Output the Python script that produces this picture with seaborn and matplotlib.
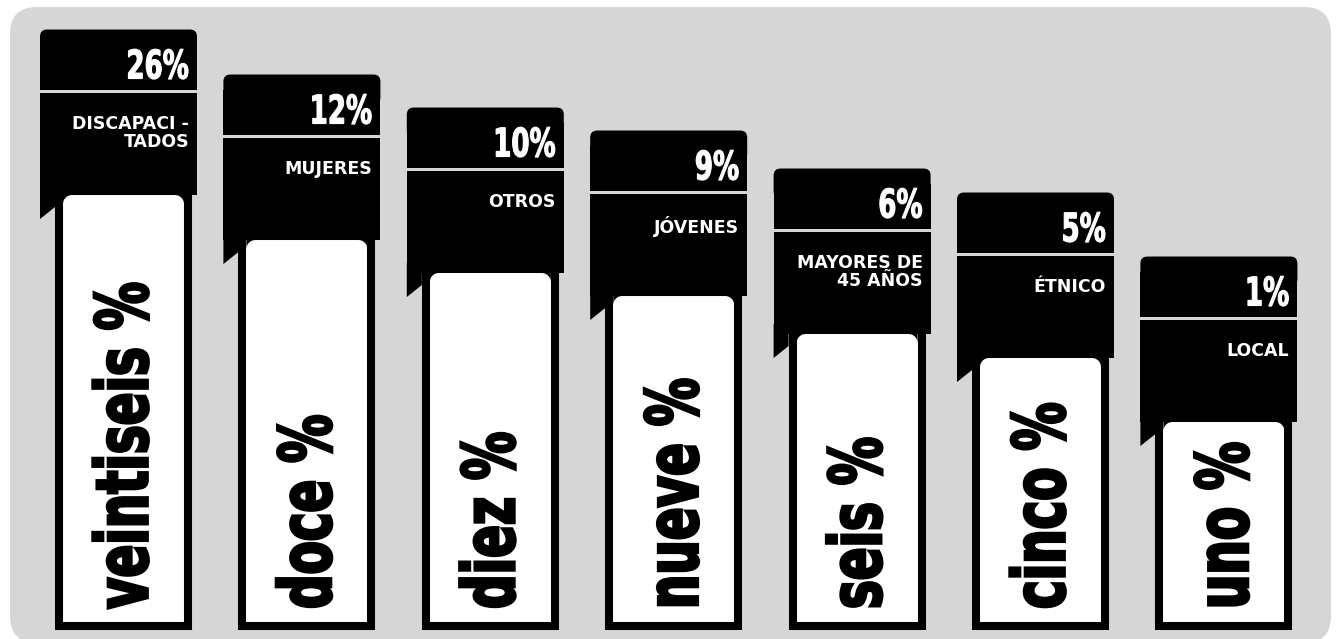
import numpy as np
import pandas as pd
import matplotlib
matplotlib.use("Agg")
import matplotlib.pyplot as plt
from matplotlib.patches import FancyBboxPatch, Polygon, Rectangle
from matplotlib.transforms import IdentityTransform, Affine2D
from matplotlib.patheffects import AbstractPathEffect
import seaborn as sns

# --- data -------------------------------------------------------------
grupos = ["DISCAPACI -\nTADOS", "MUJERES", "OTROS", "JÓVENES",
          "MAYORES DE\n45 AÑOS", "ÉTNICO", "LOCAL"]
porcentajes = [26, 12, 10, 9, 6, 5, 1]
en_palabras = ["veintiseis", "doce", "diez", "nueve", "seis", "cinco", "uno"]
# length of each column as drawn in the infographic
altura_columna = [435, 390, 357, 334, 296, 272, 208]


class Stretch(AbstractPathEffect):
    """Stretch glyphs around an anchor point and optionally embolden them."""

    def __init__(self, origin, sx=1.0, sy=1.0, stroke=0.0):
        super().__init__()
        self.origin, self.sx, self.sy, self.stroke = origin, sx, sy, stroke

    def draw_path(self, renderer, gc, tpath, affine, rgbFace=None):
        ox, oy = self.origin
        extra = (Affine2D().translate(-ox, -oy)
                 .scale(self.sx, self.sy).translate(ox, oy))
        gc0 = renderer.new_gc()
        gc0.copy_properties(gc)
        if self.stroke > 0 and rgbFace is not None:
            gc0.set_linewidth(self.stroke)
            gc0.set_foreground(rgbFace)
            gc0.set_joinstyle("miter")
        renderer.draw_path(gc0, tpath, affine + extra, rgbFace)
        gc0.restore()


def corner_fillet(x, y, r, side):
    """Black fillet that rounds an inner top corner of a column."""
    t = np.linspace(0, np.pi / 2, 12)
    sign = 1 if side == "left" else -1
    cxr, cyr = x + sign * r, y - r
    arc = np.c_[cxr - sign * r * np.cos(t), cyr + r * np.sin(t)]
    return np.vstack([[x, y], arc])


# --- style ------------------------------------------------------------
sns.set_theme(style="white")
plt.rcParams["font.family"] = ["DejaVu Sans"]

GRIS = "#d6d6d6"
W, H = 1338, 639
DPI = 100
fig = plt.figure(figsize=(W / DPI, H / DPI), dpi=DPI, facecolor="white")
ident = IdentityTransform()

# rounded grey panel behind everything
fig.patches.append(FancyBboxPatch((10, -4), 1321, 636,
                                  boxstyle="round,pad=0,rounding_size=27",
                                  facecolor=GRIS, edgecolor="none",
                                  transform=ident, zorder=-10))

ax = fig.add_axes([0, 0, 1, 1])
ax.set_zorder(5)
ax.patch.set_visible(False)

df = pd.DataFrame({"grupo": grupos, "altura": altura_columna})
LW = 5.8  # outline width in points
sns.barplot(data=df, x="grupo", y="altura", color="white", saturation=1,
            edgecolor="black", linewidth=LW, width=0.7034, errorbar=None,
            ax=ax, zorder=3)

step = 183.4
ax.set_xlim(-123.5 / step, (W - 123.5) / step)
ax.set_ylim(-13, 626)
ax.set_axis_off()

fig.canvas.draw()
half_lw = LW * DPI / 72 / 2

for p, grupo, pct, palabra in zip(ax.patches, grupos, porcentajes, en_palabras):
    x0, w, h = p.get_x(), p.get_width(), p.get_height()
    (cx, top), = ax.transData.transform([(x0 + w / 2, h)])
    (_, base), = ax.transData.transform([(x0, 0)])

    wt = top - half_lw            # top of the white interior
    T = wt + 165.5                # top of the black tag
    L = cx - 83.5
    R = cx + 73.5
    outer_left = cx - 68.5
    inner_l, inner_r = cx - 60.5, cx + 60.5

    # black tag: rounded top, straight body, small folded flap at lower left
    ax.add_patch(FancyBboxPatch((L, T - 30), R - L, 30,
                                boxstyle="round,pad=0,rounding_size=7",
                                facecolor="black", edgecolor="none",
                                transform=ident, zorder=1))
    ax.add_patch(Rectangle((L, wt), R - L, T - 15 - wt, facecolor="black",
                           edgecolor="none", transform=ident, zorder=1))
    ax.add_patch(Polygon([(L, wt + 10), (L, wt - 24), (outer_left, wt - 12),
                          (outer_left, wt + 10)], closed=True,
                         facecolor="black", edgecolor="none",
                         transform=ident, zorder=1))
    # thin divider under the percentage
    ax.add_patch(Rectangle((L, T - 63.5), R - L, 3, facecolor=GRIS,
                           edgecolor="none", transform=ident, zorder=2))
    # rounded upper corners of the white column
    for xc, side in ((inner_l, "left"), (inner_r, "right")):
        ax.add_patch(Polygon(corner_fillet(xc, wt, 9, side), closed=True,
                             facecolor="black", edgecolor="none",
                             transform=ident, zorder=3.5))

    px, py = R - 8, T - 49
    ax.text(px, py, f"{pct}%", transform=ident, ha="right",
            va="baseline", fontsize=18.8, weight="bold", color="white",
            zorder=4, path_effects=[Stretch((px, py), sy=1.515, stroke=0.8)])
    ax.text(R - 8, T - 85, grupo, transform=ident, ha="right", va="top",
            multialignment="right", linespacing=1.05, fontsize=12.5,
            weight="bold", color="white", zorder=4)

    # the value written out, running up the column
    vx, vy = cx + 24, base + 17
    ax.text(vx, vy, f"{palabra} %", transform=ident,
            rotation=90, rotation_mode="anchor", ha="left", va="baseline",
            fontsize=34.8, weight="bold", color="black", zorder=4,
            path_effects=[Stretch((vx, vy), sx=1.4925, stroke=2.0)])

fig.savefig("out.png", dpi=DPI, facecolor="white")
